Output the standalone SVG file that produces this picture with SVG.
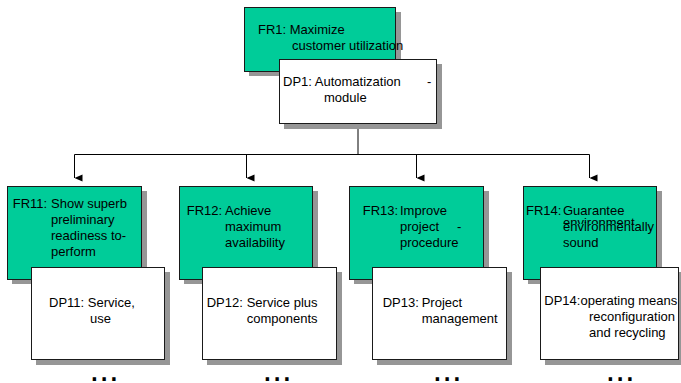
<svg xmlns="http://www.w3.org/2000/svg" width="681" height="383" viewBox="0 0 681 383">
<style>
text{font-family:"Liberation Sans",Arial,sans-serif;font-size:13px;fill:#000}
.fr{fill:#00CC99;stroke:#1a1a1a;stroke-width:1}
.dp{fill:#ffffff;stroke:#1a1a1a;stroke-width:1}
.sh{fill:#969696}
.ln{fill:none;stroke:#000;stroke-width:1}
.dots{font-size:35px}
</style>
<defs>
<marker id="arr" markerUnits="userSpaceOnUse" markerWidth="8" markerHeight="8" viewBox="0 0 8 8" refX="4" refY="8" orient="auto-start-reverse">
<path d="M0.5 0 L7.5 0 L4 8 Z" fill="#000"/>
</marker>
<clipPath id="ovl"><rect x="560" y="214" width="100" height="10"/></clipPath>
</defs>
<rect width="681" height="383" fill="#ffffff"/>

<g id="connectors">
<path class="ln" d="M358 124 V154.5" stroke-width="2"/>
<path class="ln" d="M74.5 154.5 H589.5"/>
<path class="ln" d="M74.5 154.5 V178" marker-end="url(#arr)"/>
<path class="ln" d="M246.5 154.5 V178" marker-end="url(#arr)"/>
<path class="ln" d="M416.5 154.5 V178" marker-end="url(#arr)"/>
<path class="ln" d="M589.5 154.5 V178" marker-end="url(#arr)"/>
</g>

<g id="FR1">
<rect class="sh" x="249" y="12" width="152" height="64"/>
<rect class="fr" x="244.5" y="7.5" width="151" height="64"/>
<text x="258" y="34">FR1: Maximize</text>
<text x="292" y="50">customer utilization</text>
</g>
<g id="DP1">
<rect class="sh" x="284" y="64" width="158" height="65"/>
<rect class="dp" x="279.5" y="59.5" width="157" height="64"/>
<text x="283" y="86">DP1: Automatization</text>
<text x="427" y="86">-</text>
<text x="324" y="102">module</text>
</g>

<g id="FR11">
<rect class="sh" x="12" y="191" width="135" height="93"/>
<rect class="fr" x="7.5" y="186.5" width="134" height="93"/>
<text x="12.7" y="208">FR11:</text>
<text x="51" y="208">Show superb</text>
<text x="51" y="224">preliminary</text>
<text x="51" y="240">readiness to-</text>
<text x="51" y="256">perform</text>
</g>
<g id="DP11">
<rect class="sh" x="36" y="272" width="134" height="93"/>
<rect class="dp" x="31.5" y="267.5" width="133" height="92"/>
<text x="49" y="307">DP11: Service,</text>
<text x="90" y="323">use</text>
</g>

<g id="FR12">
<rect class="sh" x="184" y="191" width="134" height="93"/>
<rect class="fr" x="179.5" y="186.5" width="133" height="93"/>
<text x="186.7" y="215">FR12:</text>
<text x="225" y="215">Achieve</text>
<text x="225" y="231">maximum</text>
<text x="225" y="247">availability</text>
</g>
<g id="DP12">
<rect class="sh" x="207" y="272" width="135" height="93"/>
<rect class="dp" x="202.5" y="267.5" width="134" height="92"/>
<text x="206.7" y="307">DP12:</text>
<text x="246.7" y="307">Service plus</text>
<text x="246.7" y="323">components</text>
</g>

<g id="FR13">
<rect class="sh" x="354" y="191" width="135" height="93"/>
<rect class="fr" x="349.5" y="186.5" width="134" height="93"/>
<text x="362.7" y="215">FR13:</text>
<text x="400" y="215">Improve</text>
<text x="400" y="231">project</text>
<text x="457" y="231">-</text>
<text x="400" y="247">procedure</text>
</g>
<g id="DP13">
<rect class="sh" x="377" y="272" width="135" height="93"/>
<rect class="dp" x="372.5" y="267.5" width="134" height="92"/>
<text x="382.7" y="307">DP13:</text>
<text x="421.7" y="307">Project</text>
<text x="421.7" y="323">management</text>
</g>

<g id="FR14">
<rect class="sh" x="528" y="191" width="134" height="93"/>
<rect class="fr" x="523.5" y="186.5" width="133" height="93"/>
<text x="526" y="215">FR14:</text>
<text x="563" y="215">Guarantee</text>
<text x="563" y="227" clip-path="url(#ovl)">environment</text>
<text x="563" y="231">environmentally</text>
<text x="563" y="247">sound</text>
</g>
<g id="DP14">
<rect class="sh" x="545" y="272" width="139" height="93"/>
<rect class="dp" x="540.5" y="267.5" width="138" height="92"/>
<text x="544.3" y="305">DP14:operating means</text>
<text x="589" y="321">reconfiguration</text>
<text x="589" y="337">and recycling</text>
</g>

<g id="ellipses">
<text class="dots" x="89.5" y="380.5">...</text>
<text class="dots" x="262.5" y="380.5">...</text>
<text class="dots" x="432.5" y="380.5">...</text>
<text class="dots" x="605.5" y="380.5">...</text>
</g>
</svg>
